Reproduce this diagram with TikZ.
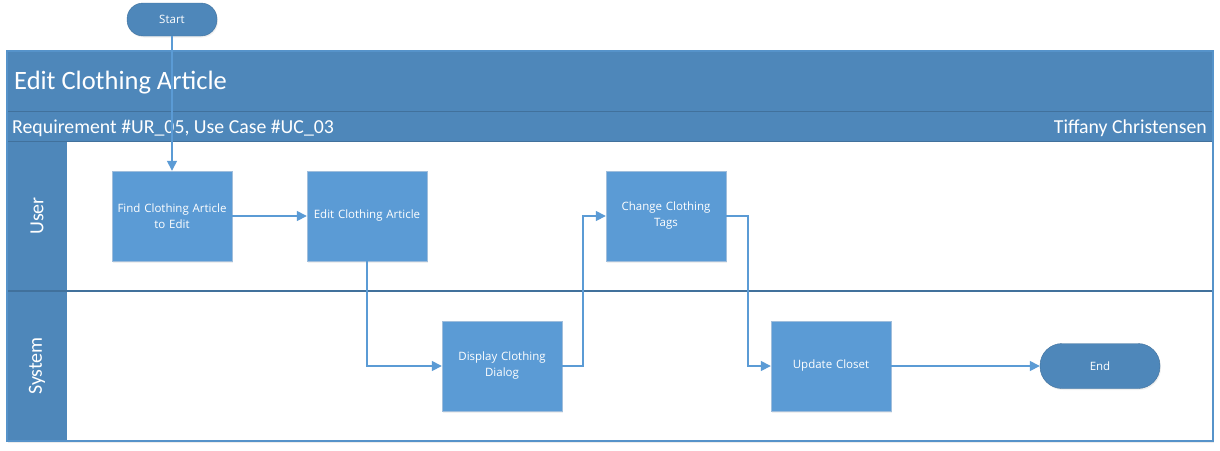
\documentclass[tikz,border=0pt]{standalone}
\usepackage{fontspec}
\setmainfont{Carlito}
\newfontfamily\boxfont{Open Sans}
\usetikzlibrary{arrows.meta,positioning,shadows}
\definecolor{bandblue}{RGB}{78,135,186}
\definecolor{boxblue}{RGB}{91,155,213}
\definecolor{lineblue}{RGB}{65,113,156}
\definecolor{boxline}{RGB}{160,190,220}

\begin{document}
\begin{tikzpicture}[x=1pt, y=-1pt, >={Triangle[length=10pt,width=10pt]}]
    \tikzstyle{term}=[draw=lineblue, fill=bandblue, text=white,
        rounded corners=16pt, font=\boxfont\fontsize{11.5}{13}\selectfont,
        drop shadow={opacity=0.12, shadow xshift=1pt, shadow yshift=-1.5pt}]
    \tikzstyle{task}=[draw=boxline, fill=boxblue, text=white, minimum width=120pt,
        minimum height=90pt, text width=116pt, align=center, inner sep=0pt,
        font=\boxfont\fontsize{11.5}{16}\selectfont,
        drop shadow={opacity=0.12, shadow xshift=1pt, shadow yshift=-1.5pt}]
    \tikzstyle{lanelabel}=[text=white, rotate=90, font=\fontsize{20}{24}\selectfont]
    \tikzstyle{flow}=[->, draw=boxblue, line width=1.5pt]

    \useasboundingbox (0,0) rectangle (1220,450);

    % pool frame, header bands and lanes
    \fill[white, drop shadow={opacity=0.15, shadow xshift=1pt, shadow yshift=-1.5pt}]
        (7,51) rectangle (1213,441);
    \fill[bandblue] (7,51) rectangle (1213,141);
    \fill[bandblue] (7,141) rectangle (67,441);
    \draw[lineblue, line width=1pt] (7,111) -- (1213,111);
    \draw[lineblue, line width=1pt] (7,141) -- (1213,141);
    \draw[lineblue, line width=1.5pt] (7,291) -- (1213,291);
    \draw[boxblue!80!lineblue, line width=1.5pt] (7,51) rectangle (1213,441);

    \node[anchor=west, text=white, font=\fontsize{26.5}{30}\selectfont, inner sep=0pt]
        (title) at (14,83) {Edit Clothing Article};
    \node[anchor=west, text=white, font=\fontsize{19.8}{23}\selectfont, inner sep=0pt]
        (req) at (12,128) {Requirement \#UR\_05, Use Case \#UC\_03};
    \node[anchor=east, text=white, font=\fontsize{19.8}{23}\selectfont, inner sep=0pt]
        (author) at (1207,128) {Tiffany Christensen};

    \node[lanelabel] (user) at (37,216) {User};
    \node[lanelabel] (system) at (37,366) {System};

    % terminators
    \node[term, minimum width=90pt, minimum height=33pt] (start) at (172,19.5) {Start};
    \node[term, minimum width=120pt, minimum height=45pt, rounded corners=22pt]
        (end) at (1100,366) {End};

    % tasks
    \node[task] (find) at (172,216) {Find Clothing Article\\to Edit};
    \node[task] (edit) at (367,216) {Edit Clothing Article};
    \node[task] (change) at (666,216) {Change Clothing\\Tags};
    \node[task] (display) at (502,366) {Display Clothing\\Dialog};
    \node[task] (update) at (831,366) {Update Closet};

    % flow
    \draw[flow] (start) -- (find);
    \draw[flow] (find) -- (edit);
    \draw[flow] (edit) |- (display);
    \draw[flow] (display.east) -- ++(21,0) |- (change.west);
    \draw[flow] (change.east) -- ++(22,0) |- (update.west);
    \draw[flow] (update) -- (end);

\end{tikzpicture}
\end{document}
